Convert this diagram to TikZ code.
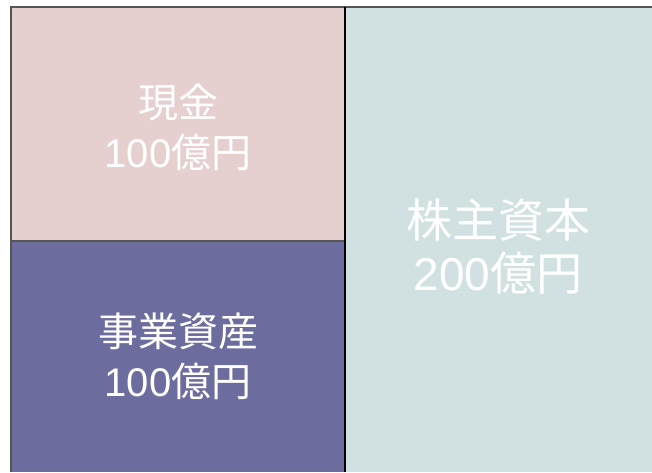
\documentclass[tikz,border=0pt]{standalone}
\usepackage{fontspec}
\setmainfont{Liberation Sans}
\newfontfamily\cjk{Noto Sans CJK JP}
\definecolor{cashpink}{HTML}{E6CFCF}
\definecolor{bizpurple}{HTML}{6D6C9E}
\definecolor{eqblue}{HTML}{D1E1E2}
\definecolor{edgegray}{HTML}{555555}
\begin{document}
\begin{tikzpicture}[x=1pt,y=1pt,
  boxlabel/.style={text=white,align=center,inner sep=0pt},
  small/.style={boxlabel,font=\fontsize{40}{50}\selectfont},
  large/.style={boxlabel,font=\fontsize{46}{53}\selectfont}]
\useasboundingbox (0,0) rectangle (652,472);
% fills
\fill[cashpink] (11,231) rectangle (345,465);
\fill[bizpurple] (11,0) rectangle (345,231);
\fill[eqblue] (345,0) rectangle (652,465);
% borders
\draw[edgegray,line width=2pt] (11,0) -- (11,465) -- (652,465);
\draw[edgegray,line width=2pt] (11,231) -- (345,231);
\draw[black,line width=1.5pt] (345,0) -- (345,465);
% labels
\node[small] (cash) at (178,345) {{\cjk 現金}\\100{\cjk 億円}};
\node[small] (biz) at (178,116) {{\cjk 事業資産}\\100{\cjk 億円}};
\node[large] (eq) at (498,225) {{\cjk 株主資本}\\200{\cjk 億円}};
\end{tikzpicture}
\end{document}
